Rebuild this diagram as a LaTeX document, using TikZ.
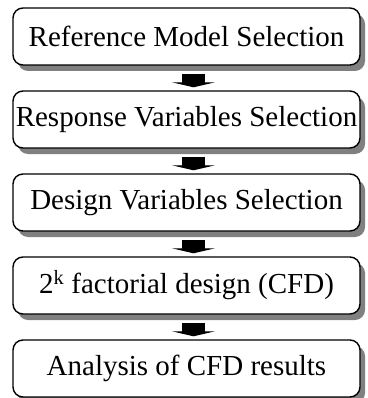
\documentclass[tikz,border=0pt]{standalone}
\usepackage{fontspec}
\setmainfont{Liberation Serif}
\usetikzlibrary{arrows.meta,calc,shadows}
\begin{document}
\begin{tikzpicture}[x=1pt,y=-1pt,
  stepbox/.style={draw=black, line width=1.4pt, rounded corners=10pt, fill=white,
    minimum width=347pt, minimum height=57pt, inner sep=0pt, align=center,
    font=\fontsize{29}{33}\selectfont,
    drop shadow={shadow xshift=5pt, shadow yshift=-6pt, fill=black!50, opacity=1}},
  flowarrow/.style={line width=23pt, -{Triangle[width=43pt,length=5pt]}}]
\useasboundingbox (0,0) rectangle (367,398);
\node[stepbox] (b1) at (186.5,36.5) {Reference Model Selection};
\node[stepbox] (b2) at (186.5,119.5) {Response Variables Selection};
\node[stepbox] (b3) at (186.5,202.5) {Design Variables Selection};
\node[stepbox] (b4) at (186.5,285.5) {2\textsuperscript{k} factorial design (CFD)};
\node[stepbox] (b5) at (186.5,368.5) {Analysis of CFD results};
\foreach \a/\b in {b1/b2,b2/b3,b3/b4,b4/b5}
  \draw[flowarrow] ($(\a.south)+(7,8)$) -- ($(\b.north)+(7,-3)$);
\end{tikzpicture}
\end{document}
